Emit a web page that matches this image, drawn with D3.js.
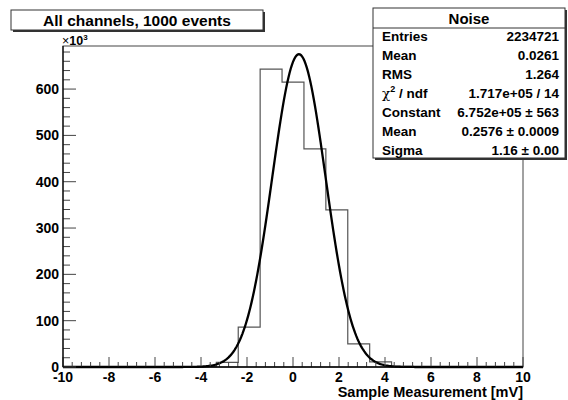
<!DOCTYPE html>
<html>
<head>
<meta charset="utf-8">
<script src="https://cdn.jsdelivr.net/npm/d3@7"></script>
<style>
  body { margin: 0; background: #fff; }
  svg { display: block; font-family: "Liberation Sans", Arial, sans-serif; font-weight: bold; }
</style>
</head>
<body>
<script>
// histogram: 21 bins from -10 to 10 (mV), contents in events
const binLo = -10;
const binHi = 10;
const counts = [0, 0, 0, 0, 0, 0, 1000, 10000, 86000, 643000, 615000, 471000, 339000, 50000, 11000, 1500, 0, 0, 0, 0, 0];

// gaussian fit parameters from the stats box
const fitConstant = 6.752e5;
const fitMean = 0.2576;
const fitSigma = 1.16;

const statRows = [
  ["Entries", "2234721"],
  ["Mean", "0.0261"],
  ["RMS", "1.264"],
  ["chi2", "1.717e+05 / 14"],
  ["Constant", "6.752e+05 \u00b1 563"],
  ["Mean", "0.2576 \u00b1 0.0009"],
  ["Sigma", "1.16 \u00b1 0.00"]
];

const xTicks = [-10, -8, -6, -4, -2, 0, 2, 4, 6, 8, 10];
const yTicks = [0, 100, 200, 300, 400, 500, 600];

const width = 568, height = 400;
const margin = {left: 63, right: 45, top: 46, bottom: 33};

const svg = d3.select("body").append("svg")
    .attr("width", width)
    .attr("height", height);

const x = d3.scaleLinear().domain([binLo, binHi]).range([margin.left, width - margin.right]);
const y = d3.scaleLinear().domain([0, 693]).range([height - margin.bottom, margin.top]);

const x0 = margin.left, x1 = width - margin.right;
const y0 = height - margin.bottom, y1 = margin.top;

// frame
svg.append("rect")
    .attr("x", x0).attr("y", y1)
    .attr("width", x1 - x0).attr("height", y0 - y1)
    .attr("fill", "none").attr("stroke", "#444").attr("stroke-width", 1);

// histogram as a step line
const nb = counts.length;
const bw = (binHi - binLo) / nb;
let pts = [[binLo, 0]];
counts.forEach((c, i) => {
    pts.push([binLo + i * bw, c / 1000]);
    pts.push([binLo + (i + 1) * bw, c / 1000]);
});
pts.push([binHi, 0]);
svg.append("path")
    .attr("d", d3.line().x(d => x(d[0])).y(d => y(d[1]))(pts))
    .attr("fill", "none")
    .attr("stroke", "#555")
    .attr("stroke-width", 1.2);

// fit curve
const fitPts = d3.range(0, 401).map(i => {
    const xv = binLo + i * (binHi - binLo) / 400;
    return [xv, fitConstant * Math.exp(-0.5 * Math.pow((xv - fitMean) / fitSigma, 2)) / 1000];
});
svg.append("path")
    .attr("d", d3.line().x(d => x(d[0])).y(d => y(d[1]))(fitPts))
    .attr("fill", "none")
    .attr("stroke", "#000")
    .attr("stroke-width", 2.3);

// x axis ticks (inside)
const xMinor = d3.range(-10, 10.001, 0.4);
svg.append("g").selectAll("line").data(xMinor).join("line")
    .attr("x1", d => x(d)).attr("x2", d => x(d))
    .attr("y1", y0).attr("y2", d => Math.abs(d / 2 - Math.round(d / 2)) < 1e-6 ? y0 - 10 : y0 - 5)
    .attr("stroke", "#444");
svg.append("line").attr("x1", x0).attr("x2", x1).attr("y1", y0).attr("y2", y0)
    .attr("stroke", "#000").attr("stroke-width", 1.5);
svg.append("g").selectAll("text").data(xTicks).join("text")
    .attr("x", d => x(d)).attr("y", 382)
    .attr("text-anchor", "middle")
    .attr("font-size", 14)
    .text(d => d);
svg.append("text")
    .attr("x", x1).attr("y", 397)
    .attr("text-anchor", "end")
    .attr("font-size", 14.5)
    .text("Sample Measurement [mV]");

// y axis ticks
const yMinor = d3.range(0, 690, 20);
svg.append("g").selectAll("line").data(yMinor).join("line")
    .attr("y1", d => y(d)).attr("y2", d => y(d))
    .attr("x1", x0).attr("x2", d => d % 100 === 0 ? x0 + 13 : x0 + 7)
    .attr("stroke", "#444");
svg.append("line").attr("x1", x0).attr("x2", x0).attr("y1", y0).attr("y2", y1)
    .attr("stroke", "#000").attr("stroke-width", 1.2);
svg.append("g").selectAll("text").data(yTicks).join("text")
    .attr("x", x0 - 4).attr("y", d => y(d) + 5)
    .attr("text-anchor", "end")
    .attr("font-size", 14)
    .text(d => d);
const exp = svg.append("text").attr("x", x0 - 1).attr("y", 45).attr("font-size", 12.5);
exp.append("tspan").attr("font-weight", "normal").text("\u00d7");
exp.append("tspan").text("10");
exp.append("tspan").attr("dy", -5).attr("font-size", 8).text("3");

// title box
svg.append("rect").attr("x", 13).attr("y", 12).attr("width", 252).attr("height", 20).attr("fill", "#333");
svg.append("rect").attr("x", 11).attr("y", 10).attr("width", 252).attr("height", 20)
    .attr("fill", "#fff").attr("stroke", "#333").attr("stroke-width", 1);
svg.append("text").attr("x", 137).attr("y", 26)
    .attr("text-anchor", "middle").attr("font-size", 15.5)
    .text("All channels, 1000 events");

// stats box
const sx = 373, sy = 8, sw = 192, sh = 150;
svg.append("rect").attr("x", sx + 2).attr("y", sy + 2).attr("width", sw).attr("height", sh).attr("fill", "#333");
svg.append("rect").attr("x", sx).attr("y", sy).attr("width", sw).attr("height", sh)
    .attr("fill", "#fff").attr("stroke", "#333").attr("stroke-width", 1);
svg.append("line").attr("x1", sx).attr("x2", sx + sw).attr("y1", sy + 20).attr("y2", sy + 20)
    .attr("stroke", "#333");
svg.append("text").attr("x", sx + sw / 2).attr("y", sy + 16)
    .attr("text-anchor", "middle").attr("font-size", 15).text("Noise");
const rowH = 19;
statRows.forEach((r, i) => {
    const ty = 41 + rowH * i;
    const lab = svg.append("text").attr("x", sx + 9).attr("y", ty).attr("font-size", 13.5);
    if (r[0] === "chi2") {
        lab.append("tspan").attr("font-family", "DejaVu Serif").attr("font-weight", "normal").text("\u03c7");
        lab.append("tspan").attr("dy", -6).attr("font-size", 9).text("2");
        lab.append("tspan").attr("dy", 6).text(" / ndf");
    } else {
        lab.text(r[0]);
    }
    svg.append("text").attr("x", sx + sw - 6).attr("y", ty)
        .attr("text-anchor", "end").attr("font-size", 13.5).text(r[1]);
});
</script>
</body>
</html>
